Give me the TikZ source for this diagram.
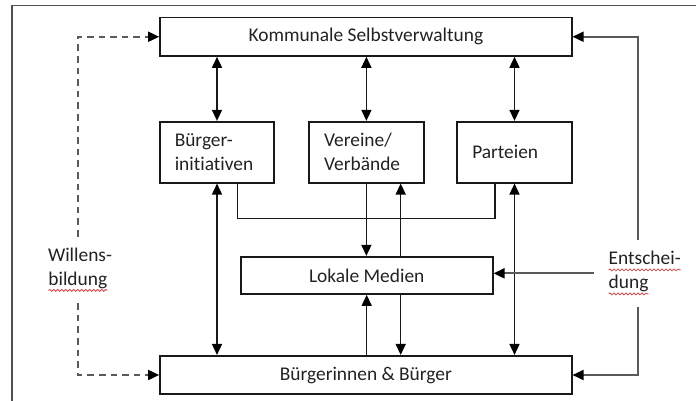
\documentclass[tikz,border=0pt]{standalone}
\usepackage{fontspec}
\setmainfont{Carlito}[Ligatures=NoCommon]
\usepackage{tikz}
\usetikzlibrary{arrows.meta, calc, decorations.pathmorphing}
\usepackage{xcolor}
\definecolor{framegray}{HTML}{505050}
\definecolor{sidegray}{HTML}{5A5A5A}
\definecolor{textdark}{HTML}{222222}
\definecolor{spellred}{HTML}{E8474A}

\newcommand{\spellwavy}[1]{\tikz[baseline=(sw.base)]{\node[inner sep=0pt, outer sep=0pt] (sw) {#1};
  \draw[spellred, line width=0.4pt, decorate, decoration={snake, amplitude=0.5pt, segment length=2pt}]
    ([yshift=-2.5pt]sw.base west) -- ([yshift=-2.5pt]sw.base east);}}

\tikzset{
  blacktip/.tip={Triangle[length=5.5pt, width=5pt, color=black]},
  widebox/.style={rectangle, draw=black!90, line width=0.85pt, text=textdark,
    minimum width=205.85pt, minimum height=19.2pt, inner sep=0pt,
    font=\fontsize{9.7}{12}\selectfont},
  orgbox/.style={widebox, minimum width=57.25pt, minimum height=30.5pt,
    text width=42.25pt, inner xsep=7.5pt, align=left},
  sidelabel/.style={text=textdark, align=left, inner xsep=7pt, inner ysep=5.5pt,
    font=\fontsize{9.7}{12}\selectfont},
  conn/.style={draw=black!90, line width=0.75pt},
  onearrow/.style={conn, -{blacktip}},
  twoarrow/.style={conn, {blacktip}-{blacktip}},
  sidearrow/.style={draw=sidegray, line width=0.9pt, -{blacktip}},
  willarrow/.style={draw=sidegray, line width=0.9pt, dash pattern=on 3.3pt off 2.5pt, -{blacktip}}
}

\begin{document}
\begin{tikzpicture}[x=0.5pt, y=-0.5pt]
\useasboundingbox (0,0) rectangle (696,401);
% frame of the page
\draw[framegray, line width=0.8pt] (12,401) -- (12,5.5) -- (696,5.5);

% boxes
\node[widebox] (komm) at (365.85,36.75) {Kommunale Selbstverwaltung};
\node[orgbox] (bi) at (217,152.2) {Bürger-\\initiativen};
\node[orgbox] (ve) at (366.4,152.2) {Vereine/\\Verbände};
\node[orgbox] (pa) at (514.5,152.2) {Parteien};
\node[widebox, minimum width=126pt, minimum height=18.65pt] (lm) at (366.7,275.35) {Lokale Medien};
\node[widebox] (bb) at (365.85,375) {Bürgerinnen \& Bürger};

% side labels
\node[sidelabel] (wil) at (80,269.85) {Willens-\\\spellwavy{bildung}};
\node[sidelabel] (ent) at (644.7,273.35) {\spellwavy{Entschei-}\\\spellwavy{dung}};

\coordinate (lline) at (78,0);
\coordinate (rline) at (638.3,0);
\coordinate (join) at (366.7,218.3);
\coordinate (mR) at ([xshift=17pt]lm.center);
\coordinate (biR) at ([xshift=10.15pt]bi.south);
\coordinate (paL) at ([xshift=-9.75pt]pa.south);

% Selbstverwaltung <-> groups
\draw[twoarrow] (bi.north |- komm.south) -- (bi.north);
\draw[twoarrow] (ve.north |- komm.south) -- (ve.north);
\draw[twoarrow] (pa.north |- komm.south) -- (pa.north);

% groups <-> citizens
\draw[twoarrow] (bi.south) -- (bi.south |- bb.north);
\draw[twoarrow] (pa.south) -- (pa.south |- bb.north);

% groups -> media
\draw[conn] (biR) |- (join) -| (paL);
\draw[onearrow] (ve.south) -- (ve.south |- lm.north);
\draw[onearrow] (mR |- lm.north) -- (mR |- ve.south);

% media <-> citizens
\draw[onearrow] (lm.south |- bb.north) -- (lm.south);
\draw[onearrow] (mR |- lm.south) -- (mR |- bb.north);

% Entscheidung
\draw[sidearrow] (ent.north -| rline) |- (komm.east);
\draw[sidearrow] (ent.south -| rline) |- (bb.east);
\draw[sidearrow] (ent.west) -- (ent.west -| lm.east);

% Willensbildung
\draw[willarrow] (wil.north -| lline) |- (komm.west);
\draw[willarrow] (wil.south -| lline) |- (bb.west);
\end{tikzpicture}
\end{document}
